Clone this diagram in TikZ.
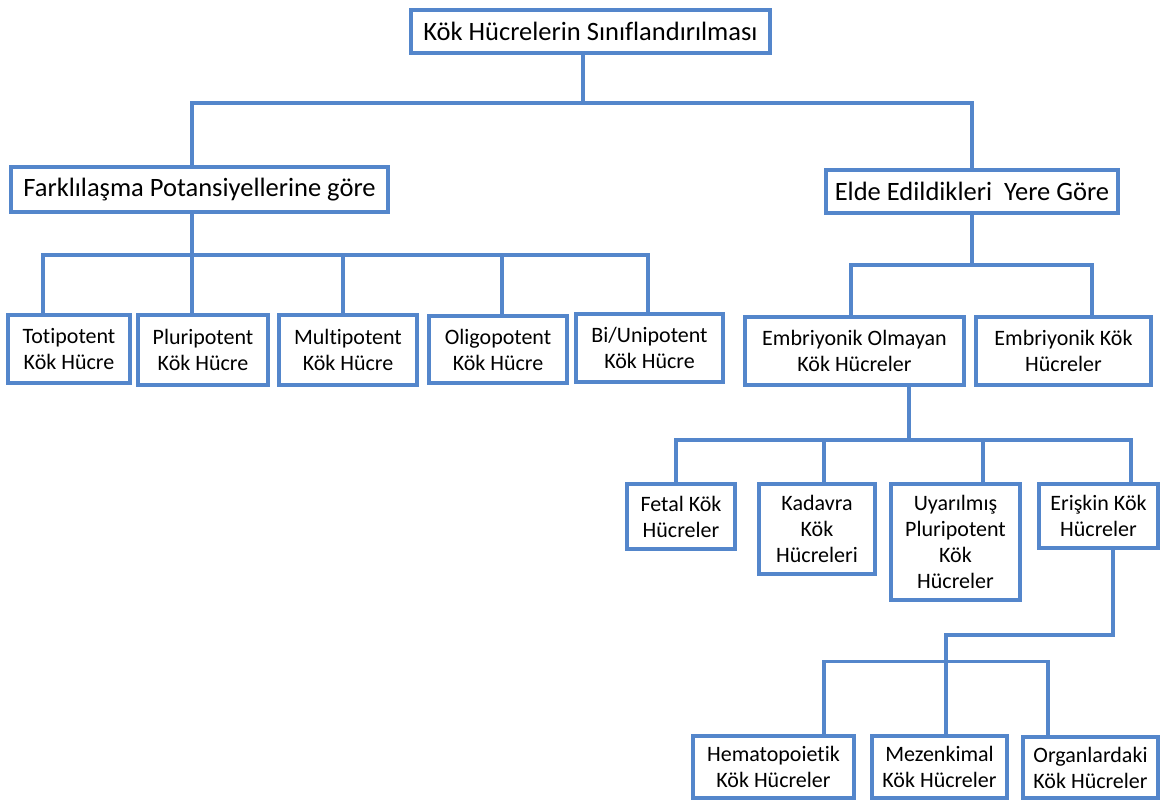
\documentclass[tikz,border=0pt]{standalone}
\usepackage{fontspec}
\setmainfont[Ligatures=NoCommon]{Carlito}
\definecolor{cellblue}{RGB}{84,134,203}

\begin{document}
\begin{tikzpicture}[x=1pt, y=-1pt,
    box/.style={draw=cellblue, line width=3.5pt, fill=white, align=center, inner sep=0pt,
                text=black, font=\fontsize{22}{26}\selectfont},
    bigbox/.style={box, font=\fontsize{26.5}{30}\selectfont},
    link/.style={draw=cellblue, line width=3.5pt}]
    \useasboundingbox (0,0) rectangle (1160,801);

    \node[bigbox, minimum width=359pt, minimum height=43pt] (title) at (590.5,31.5) {Kök Hücrelerin Sınıflandırılması};
    \node[bigbox, minimum width=377pt, minimum height=45pt] (farkli) at (199.5,189.5) {Farklılaşma Potansiyellerine göre};
    \node[bigbox, minimum width=292pt, minimum height=43pt] (elde) at (972,191.5) {Elde Edildikleri\ \ Yere Göre};

    \node[box, minimum width=122pt, minimum height=68pt] (toti) at (69,349) {Totipotent\\Kök Hücre};
    \node[box, minimum width=130pt, minimum height=70pt] (pluri) at (203,350) {Pluripotent\\Kök Hücre};
    \node[box, minimum width=138pt, minimum height=70pt] (multi) at (348,350) {Multipotent\\Kök Hücre};
    \node[box, minimum width=138pt, minimum height=67pt] (oligo) at (498,349.5) {Oligopotent\\Kök Hücre};
    \node[box, minimum width=147pt, minimum height=68pt] (biuni) at (649.5,348) {Bi/Unipotent\\Kök Hücre};

    \node[box, minimum width=219pt, minimum height=68pt] (embno) at (854.5,351) {Embriyonik Olmayan\\Kök Hücreler};
    \node[box, minimum width=175pt, minimum height=68pt] (emb) at (1063.5,351) {Embriyonik Kök\\Hücreler};

    \node[box, minimum width=108pt, minimum height=65pt] (fetal) at (681,516.5) {Fetal Kök\\Hücreler};
    \node[box, minimum width=116pt, minimum height=90pt] (kadavra) at (817,529) {Kadavra\\Kök\\Hücreleri};
    \node[box, minimum width=129pt, minimum height=116pt] (uyar) at (955.5,542) {Uyarılmış\\Pluripotent\\Kök\\Hücreler};
    \node[box, minimum width=119pt, minimum height=64pt] (eris) at (1098.5,516) {Erişkin Kök\\Hücreler};

    \node[box, minimum width=161pt, minimum height=62pt] (hema) at (773.5,767) {Hematopoietik\\Kök Hücreler};
    \node[box, minimum width=135pt, minimum height=62pt] (mezen) at (939.5,767) {Mezenkimal\\Kök Hücreler};
    \node[box, minimum width=135pt, minimum height=61pt] (organ) at (1090.5,767.5) {Organlardaki\\Kök Hücreler};

    \draw[link] ([xshift=-7.5pt]title.south) -- ++(0,48) -| ([xshift=-7.5pt]farkli.north);
    \draw[link] ([xshift=-7.5pt]title.south) -- ++(0,48) -| (elde.north);

    \foreach \c/\dx in {toti/-26, pluri/-11, multi/-5, oligo/4, biuni/-1.5}
        \draw[link] ([xshift=-7.5pt]farkli.south) -- ++(0,41) -| ([xshift=\dx pt]\c.north);

    \foreach \c/\dx in {embno/-3.5, emb/28.5}
        \draw[link] (elde.south) -- ++(0,50) -| ([xshift=\dx pt]\c.north);

    \foreach \c/\dx in {fetal/-5, kadavra/7, uyar/27.5, eris/32.5}
        \draw[link] ([xshift=54.5pt]embno.south) -- ++(0,53) -| ([xshift=\dx pt]\c.north);

    \draw[link] ([xshift=14.5pt]eris.south) -- ++(0,85) -| ([xshift=6.5pt]mezen.north);
    \foreach \c/\dx in {hema/50.5, organ/-42.5}
        \draw[link] ([xshift=6.5pt]mezen.north) ++(0,-73) -| ([xshift=\dx pt]\c.north);
\end{tikzpicture}
\end{document}
